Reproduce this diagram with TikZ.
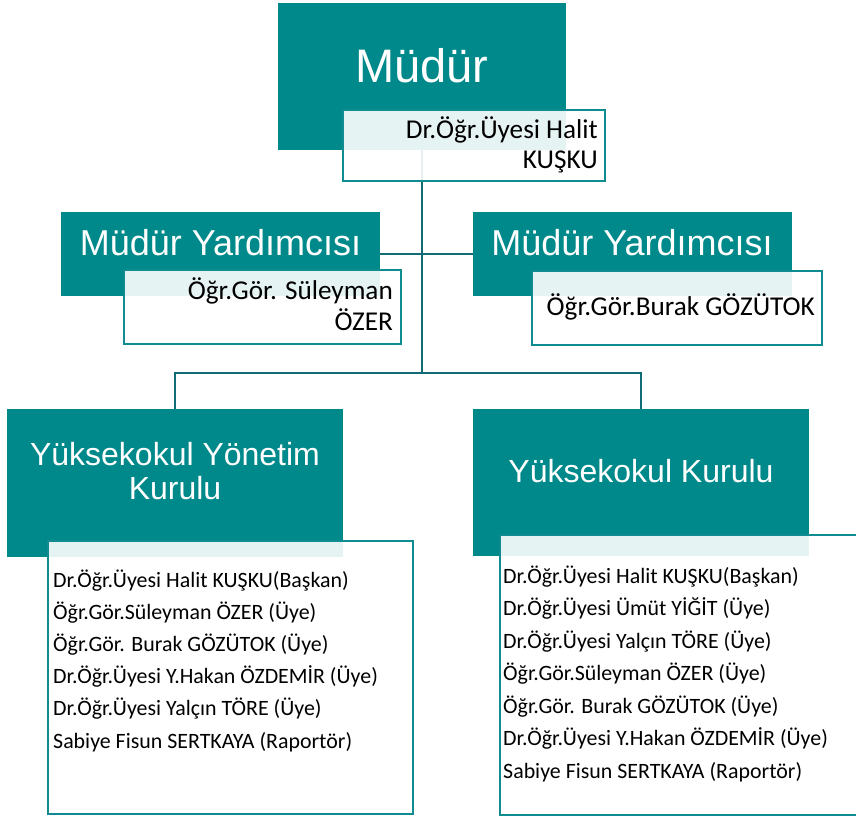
\documentclass[tikz,border=0pt]{standalone}
\usepackage{fontspec}
\setmainfont{Carlito}
\newfontfamily\arialf{Liberation Sans}
\usetikzlibrary{backgrounds}
\definecolor{tealbox}{RGB}{0,137,138}
\definecolor{tealline}{RGB}{18,108,117}
\definecolor{tealborder}{RGB}{16,140,145}
\begin{document}
\begin{tikzpicture}[x=1pt,y=-1pt,
  titlebox/.style={fill=tealbox, draw=none, inner sep=0, outer sep=0, anchor=north west},
  namebox/.style={draw=tealborder, line width=2pt, fill=white, fill opacity=0.9, inner sep=0, outer sep=0, anchor=north west},
  conn/.style={draw=tealline, line width=2.6pt},
  bigtitle/.style={text=white, font=\arialf\fontsize{47}{56}\selectfont, inner sep=0},
  midtitle/.style={text=white, font=\arialf\fontsize{36}{42}\selectfont, inner sep=0},
  lowtitle/.style={text=white, font=\arialf\fontsize{32}{38}\selectfont, inner sep=0},
  nametext/.style={text=black, font=\fontsize{27.2}{31}\selectfont, inner sep=0},
  listtext/.style={text=black, font=\fontsize{21.9}{26}\selectfont, inner sep=0, anchor=base west}]
\useasboundingbox (0,0) rectangle (856,816);

% Müdür
\node[titlebox, minimum width=288, minimum height=147] (m) at (278,3) {};
\node[namebox, minimum width=262, minimum height=71] (mn) at (343,110) {};
\node[bigtitle, anchor=base] (mt) at (422,82) {Müdür};
\node[nametext, anchor=base east] (mn1) at (598,138) {Dr.Öğr.Üyesi Halit};
\node[nametext, anchor=base east] (mn2) at (598,168) {KUŞKU};

% Müdür Yardımcısı (left)
\node[titlebox, minimum width=319, minimum height=84] (ly) at (61,212) {};
\node[namebox, minimum width=277, minimum height=74] (lyn) at (124,270) {};
\node[midtitle, anchor=base] (lyt) at (220.5,255) {Müdür Yardımcısı};
\node[nametext, anchor=base east] (lyn1) at (393,299) {Öğr.Gör. Süleyman};
\node[nametext, anchor=base east] (lyn2) at (393,330) {ÖZER};

% Müdür Yardımcısı (right)
\node[titlebox, minimum width=319, minimum height=84] (ry) at (473,212) {};
\node[namebox, minimum width=290, minimum height=74] (ryn) at (532,271) {};
\node[midtitle, anchor=base] (ryt) at (632,255) {Müdür Yardımcısı};
\node[nametext, anchor=base east] (ryn1) at (815,315) {Öğr.Gör.Burak GÖZÜTOK};

% Yüksekokul Yönetim Kurulu
\node[titlebox, minimum width=336, minimum height=148] (ykb) at (7,409) {};
\node[namebox, minimum width=365, minimum height=273] (ykbn) at (48,541) {};
\node[lowtitle, anchor=base] (ykt1) at (175,465) {Yüksekokul Yönetim};
\node[lowtitle, anchor=base] (ykt2) at (175,499) {Kurulu};
\foreach \t [count=\i] in {Dr.Öğr.Üyesi Halit KUŞKU(Başkan),
  Öğr.Gör.Süleyman ÖZER (Üye),
  Öğr.Gör. Burak GÖZÜTOK (Üye),
  Dr.Öğr.Üyesi Y.Hakan ÖZDEMİR (Üye),
  Dr.Öğr.Üyesi Yalçın TÖRE (Üye),
  Sabiye Fisun SERTKAYA (Raportör)}
  \node[listtext] (yl\i) at (53,{587+32.2*(\i-1)}) {\t};

% Yüksekokul Kurulu
\node[titlebox, minimum width=336, minimum height=147] (kb) at (473,409) {};
\node[namebox, minimum width=380, minimum height=280] (kbn) at (500,535) {};
\node[lowtitle, anchor=base] (kt) at (641,482) {Yüksekokul Kurulu};
\foreach \t [count=\i] in {Dr.Öğr.Üyesi Halit KUŞKU(Başkan),
  Dr.Öğr.Üyesi Ümüt YİĞİT (Üye),
  Dr.Öğr.Üyesi Yalçın TÖRE (Üye),
  Öğr.Gör.Süleyman ÖZER (Üye),
  Öğr.Gör. Burak GÖZÜTOK (Üye),
  Dr.Öğr.Üyesi Y.Hakan ÖZDEMİR (Üye),
  Sabiye Fisun SERTKAYA (Raportör)}
  \node[listtext] (kl\i) at (503,{583+32.5*(\i-1)}) {\t};

% connectors
\begin{scope}[on background layer]
\coordinate (hub) at (m.south |- 0,373);
\draw[conn] (m.south) -- (hub);
\draw[conn] (ly.east) -- (ly.east -| ry.west);
\draw[conn] (ykb.north) |- (hub) -| (kb.north);
\end{scope}
\end{tikzpicture}
\end{document}
